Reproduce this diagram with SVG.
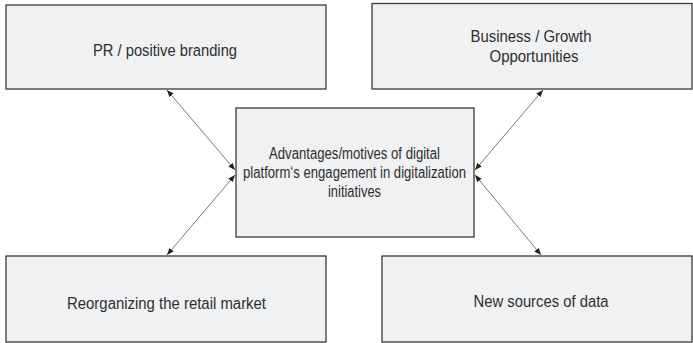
<svg xmlns="http://www.w3.org/2000/svg" width="693" height="343" viewBox="0 0 693 343">
<style>
.box{fill:#f0f1f3;stroke:#3a3a3a;stroke-width:1.3}
.t{font-family:"Liberation Sans",Arial,sans-serif;font-size:16px;fill:#2e2e2e;text-anchor:middle}
.c{stroke:#555;stroke-width:0.8;fill:none;marker-start:url(#ah);marker-end:url(#ah)}
</style>
<defs>
<marker id="ah" viewBox="0 0 10 10" refX="10" refY="5" markerWidth="7" markerHeight="7" markerUnits="userSpaceOnUse" orient="auto-start-reverse">
<path d="M0,1 L10,5 L0,9 Z" fill="#222"/>
</marker>
</defs>
<rect width="693" height="343" fill="#ffffff"/>
<g id="connectors">
<line class="c" x1="167" y1="90" x2="235" y2="170"/>
<line class="c" x1="543" y1="90" x2="475" y2="170"/>
<line class="c" x1="167" y1="255" x2="235" y2="175"/>
<line class="c" x1="541" y1="255" x2="475" y2="175"/>
</g>
<g id="pr">
<rect class="box" x="6" y="5" width="320" height="84"/>
<text class="t" x="165" y="56" textLength="144" lengthAdjust="spacingAndGlyphs">PR / positive branding</text>
</g>
<g id="business">
<rect class="box" x="372" y="3.5" width="320" height="85.5"/>
<text class="t" x="531" y="42" textLength="121" lengthAdjust="spacingAndGlyphs">Business / Growth</text>
<text class="t" x="534" y="62" textLength="89" lengthAdjust="spacingAndGlyphs">Opportunities</text>
</g>
<g id="center">
<rect class="box" x="236" y="108" width="238" height="129"/>
<text class="t" x="354.5" y="159" textLength="171" lengthAdjust="spacingAndGlyphs">Advantages/motives of digital</text>
<text class="t" x="354.5" y="178" textLength="223" lengthAdjust="spacingAndGlyphs">platform‘s engagement in digitalization</text>
<text class="t" x="354.5" y="197" textLength="53" lengthAdjust="spacingAndGlyphs">initiatives</text>
</g>
<g id="reorganizing">
<rect class="box" x="6" y="256" width="320" height="86"/>
<text class="t" x="166.5" y="309" textLength="199" lengthAdjust="spacingAndGlyphs">Reorganizing the retail market</text>
</g>
<g id="data">
<rect class="box" x="382" y="256" width="310" height="86"/>
<text class="t" x="541" y="307" textLength="135" lengthAdjust="spacingAndGlyphs">New sources of data</text>
</g>
</svg>
